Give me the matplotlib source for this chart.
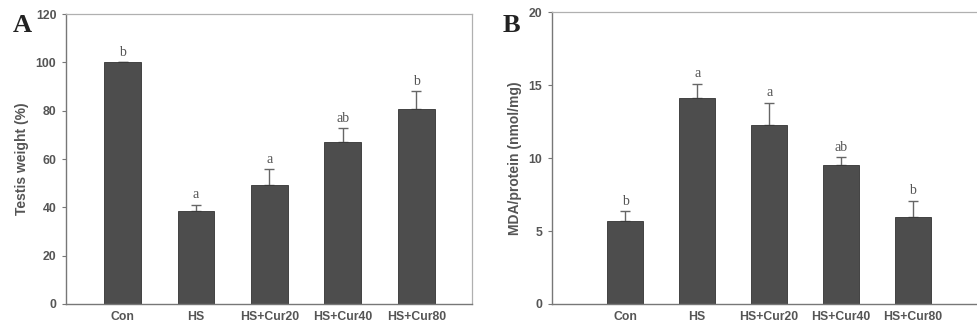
import numpy as np
import matplotlib
matplotlib.use("Agg")
import matplotlib.pyplot as plt

groups = ["Con", "HS", "HS+Cur20", "HS+Cur40", "HS+Cur80"]

testis_mean = [100.0, 38.5, 49.3, 67.2, 80.7]
testis_err = [0.0, 2.5, 6.5, 5.6, 7.4]
testis_letters = ["b", "a", "a", "ab", "b"]

mda_mean = [5.7, 14.15, 12.3, 9.55, 6.0]
mda_err = [0.65, 0.95, 1.5, 0.5, 1.07]
mda_letters = ["b", "a", "a", "ab", "b"]

BAR = "#4d4d4d"
TXT = "#555555"


def draw_panel(ax, means, errs, letters, ylim, yticks, ylabel, xlim):
    x = np.arange(len(groups))
    ax.bar(x, means, width=0.5, color=BAR, edgecolor="#333333", linewidth=0.6, zorder=2)
    ax.errorbar(x, means, yerr=[np.zeros(len(errs)), errs], fmt="none",
                ecolor="#666666", elinewidth=1.0, capsize=3.5, capthick=1.0, zorder=1)
    for xi, m, e, lab in zip(x, means, errs, letters):
        ax.annotate(lab, (xi, m + e), xytext=(0, 2.5), textcoords="offset points",
                    ha="center", va="bottom", fontsize=10, color=TXT,
                    family="Liberation Serif")
    ax.set_xlim(*xlim)
    ax.set_ylim(*ylim)
    ax.set_yticks(yticks)
    ax.set_xticks(x)
    ax.set_xticklabels(groups)
    ax.tick_params(axis="x", length=0, pad=5)
    ax.tick_params(axis="y", length=3, width=0.8, color="#777777", pad=4)
    for lab in ax.get_xticklabels() + ax.get_yticklabels():
        lab.set_fontweight("bold")
        lab.set_fontsize(8.8)
        lab.set_color(TXT)
        lab.set_family("Liberation Sans")
    ax.set_ylabel(ylabel, fontsize=10, fontweight="bold", color=TXT,
                  family="Liberation Sans", labelpad=5)
    for s in ["left", "bottom"]:
        ax.spines[s].set_color("#777777")
        ax.spines[s].set_linewidth(1.0)
    for s in ["top", "right"]:
        ax.spines[s].set_color("#b0b0b0")
        ax.spines[s].set_linewidth(0.9)


fig = plt.figure(figsize=(9.77, 3.31), dpi=100)

ax1 = fig.add_axes([0.0676, 0.0816, 0.4155, 0.876])
draw_panel(ax1, testis_mean, testis_err, testis_letters, (0, 120),
           [0, 20, 40, 60, 80, 100, 120], "Testis weight (%)", (-0.77, 4.76))

ax2 = fig.add_axes([0.565, 0.0816, 0.443, 0.881])
draw_panel(ax2, mda_mean, mda_err, mda_letters, (0, 20),
           [0, 5, 10, 15, 20], "MDA/protein (nmol/mg)", (-1.02, 5.0))

fig.text(0.013, 0.903, "A", fontsize=19, fontweight="bold", family="Liberation Serif",
         color="#222222", va="baseline")
fig.text(0.514, 0.903, "B", fontsize=19, fontweight="bold", family="Liberation Serif",
         color="#222222", va="baseline")

fig.savefig("out.png", dpi=100)
